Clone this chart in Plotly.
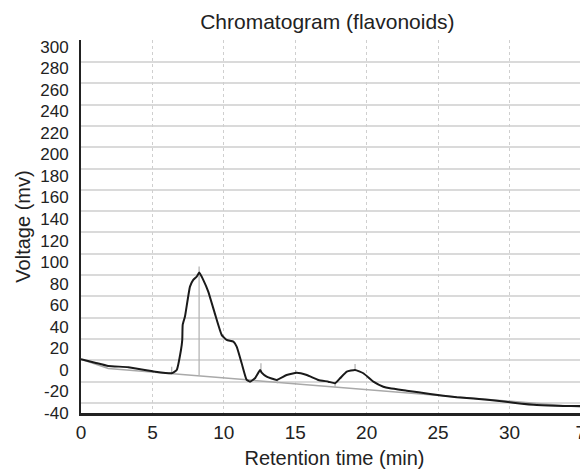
import plotly.graph_objs as go

# detector trace (min, mV)
retention_time = [0, 0.98, 1.91, 3.31, 5.18, 6.35, 6.70, 7.00, 7.09, 7.12, 7.28, 7.63, 7.86,
                  8.10, 8.28, 8.56, 8.91, 9.38, 9.85, 10.20, 10.67, 10.90, 11.25, 11.60, 11.83,
                  12.18, 12.54, 12.65, 13.00, 13.70, 14.40, 15.11, 15.81, 16.62, 17.32, 17.79,
                  18.14, 18.61, 19.19, 19.77, 20.47, 21.17, 21.64, 22.81, 24.44, 26.31, 28.64,
                  30.27, 31.91, 33.77, 35.41]
voltage = [9.9, 6.7, 3.7, 2.5, -1.6, -3.1, -0.1, 18.5, 27.8, 41.8, 49.5, 77.3, 83.6,
           86.6, 90.3, 83.6, 72.7, 52.0, 32.5, 27.8, 26.2, 21.6, 6.2, -9.3, -10.9,
           -7.8, -0.1, -2.6, -6.3, -9.3, -4.7, -2.6, -4.7, -9.3, -10.9, -12.4,
           -7.8, -1.6, -0.1, -3.1, -10.9, -15.6, -17.1, -19.3, -22.3, -25.4, -27.9,
           -30.4, -32.6, -33.5, -33.5]

# integration baseline
baseline_time = [0, 1.91, 35.5]
baseline_voltage = [9.9, 1.3, -35.0]

# peak start / apex / end markers
marker_time = [6.35, 8.27, 12.60, 13.75, 15.03, 17.79, 19.19]
marker_low = [-3.8, -4.7, -1.0, -12.4, -3.8, -16.1, -0.1]
marker_high = [3.0, 95.9, 6.2, -8.7, -0.1, -11.8, 5.5]

x_ticks = [0, 5, 10, 15, 20, 25, 30, 35]
x_labels = ['0', '5', '10', '15', '20', '25', '30', '7']
y_ticks = list(range(-40, 301, 20))
y_labels = [str(v) for v in y_ticks]

TEXT = '#222222'
FONT = 'Liberation Sans, Arial, sans-serif'

# the page body adds an 8px margin, so the figure is a bit smaller and shifted up/left
WIDTH, HEIGHT = 580, 464


def marker_segments():
    xs, ys = [], []
    for t, lo, hi in zip(marker_time, marker_low, marker_high):
        xs += [t, t, None]
        ys += [lo, hi, None]
    return xs, ys


traces = []
traces.append(go.Scatter(x=baseline_time, y=baseline_voltage, mode='lines',
                         line={'color': '#a9a9a9', 'width': 1.5}, hoverinfo='skip'))
mx, my = marker_segments()
traces.append(go.Scatter(x=mx, y=my, mode='lines',
                         line={'color': '#b5b5b5', 'width': 1.3}, hoverinfo='skip'))
traces.append(go.Scatter(x=retention_time, y=voltage, mode='lines',
                         line={'color': '#1a1a1a', 'width': 2, 'shape': 'spline', 'smoothing': 0.4}))

layout = dict()
layout['width'] = WIDTH
layout['height'] = HEIGHT
layout['margin'] = {'l': 73, 'r': 0, 't': 32, 'b': 59, 'pad': 0}
layout['paper_bgcolor'] = 'white'
layout['plot_bgcolor'] = 'white'
layout['showlegend'] = False
layout['font'] = {'family': FONT, 'color': TEXT}
layout['title'] = {'text': 'Chromatogram (flavonoids)', 'font': {'size': 21, 'color': TEXT},
                   'x': 0.486, 'xref': 'paper', 'xanchor': 'center',
                   'y': 1 - 14 / HEIGHT, 'yref': 'container', 'yanchor': 'middle',
                   'automargin': False}
layout['xaxis'] = {'title': {'text': 'Retention time (min)', 'font': {'size': 20}, 'standoff': 10},
                   'automargin': False,
                   'range': [0, 35.5],
                   'tickmode': 'array', 'tickvals': x_ticks, 'ticktext': x_labels,
                   'tickfont': {'size': 19},
                   'ticks': '', 'ticklabelstandoff': 0,
                   'showgrid': True, 'gridcolor': '#cfcfcf', 'gridwidth': 1, 'griddash': 'dot',
                   'zeroline': False,
                   'showline': True, 'linecolor': '#222222', 'linewidth': 2.5}
layout['yaxis'] = {'title': {'text': 'Voltage (mv)', 'font': {'size': 20}, 'standoff': 4},
                   'automargin': False,
                   'range': [-40, 306.2],
                   'tickmode': 'array', 'tickvals': y_ticks, 'ticktext': y_labels,
                   'tickfont': {'size': 17},
                   'ticks': '', 'ticklabelstandoff': 7,
                   'showgrid': False,
                   'minor': {'tick0': -30.7, 'dtick': 19.78, 'showgrid': True,
                             'gridcolor': '#dadada', 'gridwidth': 2, 'ticks': ''},
                   'zeroline': False,
                   'showline': True, 'linecolor': '#222222', 'linewidth': 2}
layout['hovermode'] = False

fig = go.Figure(data=traces, layout=go.Layout(layout))
fig.write_html('out.html')
